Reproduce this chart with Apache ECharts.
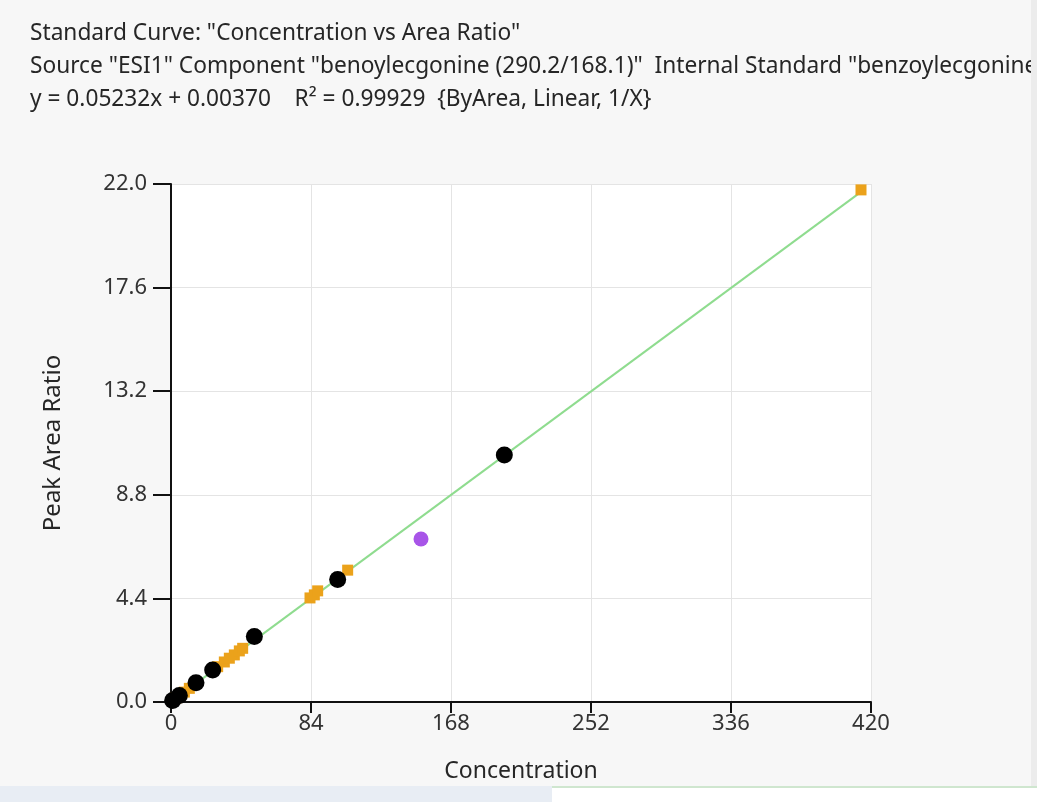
<!DOCTYPE html>
<html>
<head>
<meta charset="utf-8">
<script src="https://cdn.jsdelivr.net/npm/echarts@6/dist/echarts.min.js"></script>
<style>
html,body{margin:0;padding:0;background:#f7f7f7;}
#chart{width:1037px;height:802px;}
</style>
</head>
<body>
<div id="chart"></div>
<script>
// ---- data ----
const titleLines = [
  'Standard Curve: "Concentration vs Area Ratio"',
  'Source "ESI1" Component "benoylecgonine (290.2/168.1)"  Internal Standard "benzoylecgonine-d3"',
  'y = 0.05232x + 0.00370    R\u00B2 = 0.99929  {ByArea, Linear, 1/X}'
];
const xTicks = [0, 84, 168, 252, 336, 420];
const yTicks = [0.0, 4.4, 8.8, 13.2, 17.6, 22.0];
const slope = 0.05232;
const intercept = 0.00370;
// standards (black)
const stdConc  = [1, 5, 15, 25, 50, 100, 200];
const stdRatio = [0.06, 0.28, 0.82, 1.36, 2.78, 5.20, 10.49];
// QC / samples (orange)
const qcConc  = [3, 8, 11, 28, 32, 35, 38, 41, 43, 83.4, 86, 88, 106, 414];
const qcRatio = [0.17, 0.42, 0.58, 1.50, 1.70, 1.86, 2.00, 2.17, 2.28, 4.42, 4.55, 4.72, 5.60, 21.75];
// excluded point (purple)
const exclConc  = [150];
const exclRatio = [6.92];

// ---- build ----
const zip = (a, b) => a.map((v, i) => [v, b[i]]);
const allX = stdConc.concat(qcConc, exclConc);
const fitEnd = Math.max.apply(null, allX);
const fitLine = [[0, intercept], [fitEnd, slope * fitEnd + intercept]];

const chart = echarts.init(document.getElementById('chart'), null, {renderer: 'canvas'});
const font = '"Noto Sans", "DejaVu Sans", sans-serif';
const tFont = '22.7px ' + font;

chart.setOption({
  backgroundColor: '#f7f7f7',
  animation: false,
  graphic: [
    {type: 'rect', shape: {x: 0, y: 786, width: 552, height: 16}, style: {fill: '#e8edf4'}, silent: true, z: 10},
    {type: 'rect', shape: {x: 552, y: 786, width: 485, height: 16}, style: {fill: '#ffffff'}, silent: true, z: 10},
    {type: 'rect', shape: {x: 552, y: 786, width: 485, height: 2}, style: {fill: '#cfe6cf'}, silent: true, z: 10},
    {type: 'text', x: 30, y: 34, style: {text: titleLines[0], font: tFont, fill: '#262626', verticalAlign: 'middle'}, z: 5},
    {type: 'text', x: 30, y: 67, style: {text: titleLines[1], font: tFont, fill: '#262626', verticalAlign: 'middle'}, z: 5},
    {type: 'text', x: 30, y: 100, style: {text: titleLines[2], font: tFont, fill: '#262626', verticalAlign: 'middle'}, z: 5},
    {type: 'rect', shape: {x: 1031, y: 0, width: 6, height: 786}, style: {fill: '#ececec'}, silent: true, z: 10}
  ],
  grid: {left: 171, right: 166, top: 184, bottom: 100, containLabel: false, show: true, backgroundColor: '#ffffff', borderWidth: 0},
  xAxis: {
    type: 'value', min: 0, max: 420, interval: 84,
    name: 'Concentration', nameLocation: 'middle', nameGap: 58,
    nameTextStyle: {fontFamily: font, fontSize: 23, color: '#262626'},
    axisLine: {show: true, onZero: false, lineStyle: {color: '#111', width: 2}},
    axisTick: {show: true, length: 11, lineStyle: {color: '#111', width: 2}},
    axisLabel: {fontFamily: font, fontSize: 22, color: '#333', margin: 11,
      formatter: v => xTicks.indexOf(v) >= 0 ? String(v) : ''},
    splitLine: {show: true, lineStyle: {color: '#e4e4e4', width: 1}}
  },
  yAxis: {
    type: 'value', min: 0, max: 22, interval: 4.4,
    name: 'Peak Area Ratio', nameLocation: 'middle', nameGap: 106, nameRotate: 90,
    nameTextStyle: {fontFamily: font, fontSize: 24, color: '#262626'},
    axisLine: {show: true, onZero: false, lineStyle: {color: '#111', width: 2}},
    axisTick: {show: true, length: 18, lineStyle: {color: '#111', width: 2}},
    axisLabel: {fontFamily: font, fontSize: 22, color: '#333', margin: 24,
      formatter: v => { const t = yTicks.find(k => Math.abs(k - v) < 1e-6); return t === undefined ? '' : t.toFixed(1); }},
    splitLine: {show: true, lineStyle: {color: '#e4e4e4', width: 1}}
  },
  series: [
    {type: 'line', data: fitLine, symbol: 'none', lineStyle: {color: '#8fdc8f', width: 2}, z: 1, silent: true},
    {type: 'scatter', data: zip(qcConc, qcRatio), symbol: 'rect', symbolSize: 11, itemStyle: {color: '#eba21b', opacity: 1}, z: 2},
    {type: 'scatter', data: zip(exclConc, exclRatio), symbol: 'circle', symbolSize: 15, itemStyle: {color: '#a855e8', opacity: 1}, z: 3},
    {type: 'scatter', data: zip(stdConc, stdRatio), symbol: 'circle', symbolSize: 17, itemStyle: {color: '#000000', opacity: 1}, z: 4}
  ]
});
</script>
</body>
</html>
